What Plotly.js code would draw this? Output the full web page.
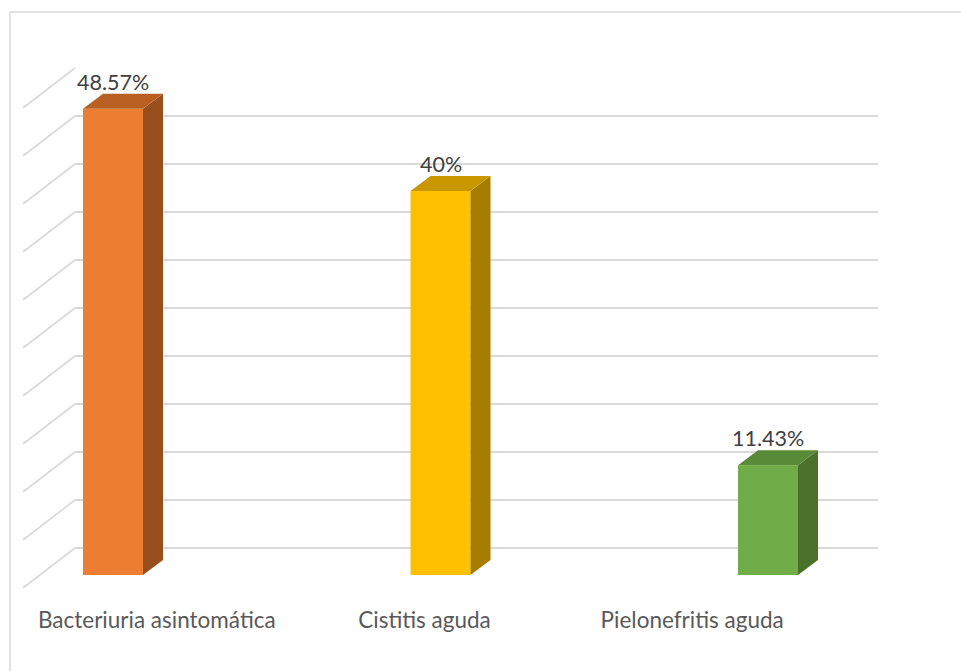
<!DOCTYPE html>
<html>
<head>
<meta charset="utf-8">
<script src="https://cdn.plot.ly/plotly-3.0.1.min.js"></script>
<style>html,body{margin:0;padding:0;background:#fff;}#chart{width:961px;height:671px;}</style>
</head>
<body>
<div id="chart"></div>
<script>
// ---- data ----
const categories = ["Bacteriuria asintomática", "Cistitis aguda", "Pielonefritis aguda"];
const values = [48.57, 40, 11.43];
const valueLabels = ["48.57%", "40%", "11.43%"];
const gridTicks = [0, 5, 10, 15, 20, 25, 30, 35, 40, 45, 50];
const frontColors = ["#ED7D31", "#FFC000", "#70AD47"];
const topColors = ["#B95F22", "#C99800", "#598A37"];
const sideColors = ["#97501D", "#A67D00", "#4A7029"];

// ---- layout geometry (pixels) ----
const W = 961, H = 671;
const catPx0 = 113, catStep = 327.5;   // front-face centre of first bar, spacing
const basePx = 575, pxPerUnit = 9.6;    // front floor line, px per percent
const wallLeft = 75, wallRight = 878, wallBottom = 548, wallTop = 68;
const depthDx = 52, depthDy = 40;       // floor depth offset
const barW = 60, barDx = 20, barDy = 15;

const x2range = [-catPx0 / catStep, (W - catPx0) / catStep];
const y2range = [-(H - basePx) / pxPerUnit, basePx / pxPerUnit];
const xu = px => (px - catPx0) / catStep;          // px -> x2 units
const wallOffset = (basePx - wallBottom) / pxPerUnit;
const w = barW / catStep, dx = barDx / catStep, dy = barDy / pxPerUnit;

const traces = [];
// dummy trace for wall subplot (gridlines)
traces.push({type:'scatter', x:[null], y:[null], xaxis:'x', yaxis:'y', hoverinfo:'skip', showlegend:false});

// diagonal floor/wall lines
const dxs = [], dys = [];
gridTicks.forEach(v => {
  dxs.push(xu(wallLeft), xu(wallLeft - depthDx), null);
  dys.push(v + wallOffset, v + wallOffset - depthDy / pxPerUnit, null);
});
traces.push({type:'scatter', mode:'lines', x:dxs, y:dys, xaxis:'x2', yaxis:'y2',
  line:{color:'#d9d9d9', width:1.6}, hoverinfo:'skip', showlegend:false});

// bars: front faces
const xs = categories.map((c, i) => i);
traces.push({type:'bar', x:xs, y:values, width:w, xaxis:'x2', yaxis:'y2',
  marker:{color:frontColors, line:{width:0}}, hoverinfo:'skip', showlegend:false});

// side and top faces
values.forEach((v, i) => {
  const r = i + w / 2, l = i - w / 2;
  traces.push({type:'scatter', mode:'lines', fill:'toself', fillcolor:sideColors[i],
    x:[r, r + dx, r + dx, r, r], y:[0, dy, v + dy, v, 0],
    line:{width:0, color:sideColors[i]}, xaxis:'x2', yaxis:'y2', hoverinfo:'skip', showlegend:false});
  traces.push({type:'scatter', mode:'lines', fill:'toself', fillcolor:topColors[i],
    x:[l, r, r + dx, l + dx, l], y:[v, v, v + dy, v + dy, v],
    line:{width:0, color:topColors[i]}, xaxis:'x2', yaxis:'y2', hoverinfo:'skip', showlegend:false});
});

// category axis trace (for tick labels)
traces.push({type:'scatter', x:categories, y:categories.map(() => null), xaxis:'x3', yaxis:'y3',
  hoverinfo:'skip', showlegend:false});

const annotations = values.map((v, i) => ({
  x: i, y: v, xref:'x2', yref:'y2', text: valueLabels[i], showarrow:false,
  yanchor:'middle', xanchor:'center', yshift:27,
  font:{family:'Lato, "Open Sans", sans-serif', size:21.5, color:'#404040'}
}));

const layout = {
  width:W, height:H,
  margin:{l:0, r:0, t:0, b:0},
  paper_bgcolor:'#ffffff', plot_bgcolor:'rgba(0,0,0,0)',
  showlegend:false,
  xaxis:{domain:[wallLeft / W, wallRight / W], range:[0, 1], visible:false, fixedrange:true},
  yaxis:{domain:[1 - wallBottom / H, 1 - wallTop / H], range:[0, 50], tickvals:gridTicks,
    showticklabels:false, ticks:'', showgrid:true, gridcolor:'#d9d9d9', gridwidth:1.6,
    zeroline:true, zerolinecolor:'#d9d9d9', zerolinewidth:1.6, showline:false, fixedrange:true},
  xaxis2:{domain:[0, 1], range:x2range, visible:false, anchor:'y2', fixedrange:true},
  yaxis2:{domain:[0, 1], range:y2range, visible:false, anchor:'x2', fixedrange:true},
  xaxis3:{domain:[(wallLeft - depthDx) / W, (wallRight - depthDx) / W], type:'category',
    range:[-0.5, 2.5], anchor:'free', position:1 - 604 / H, showgrid:false, zeroline:false,
    showline:false, ticks:'', fixedrange:true,
    tickfont:{family:'Lato, "Open Sans", sans-serif', size:22.5, color:'#595959'}},
  yaxis3:{domain:[0, 1 - 604 / H], anchor:'x3', visible:false, showgrid:false, zeroline:false, fixedrange:true},
  shapes:[{type:'rect', xref:'paper', yref:'paper', x0:10 / W, y0:1 - 12 / H, x1:1.02, y1:-0.02,
    line:{color:'#d9d9d9', width:1.5}, fillcolor:'rgba(0,0,0,0)'}],
  annotations:annotations
};

Plotly.newPlot('chart', traces, layout, {displayModeBar:false, staticPlot:true});
</script>
</body>
</html>
